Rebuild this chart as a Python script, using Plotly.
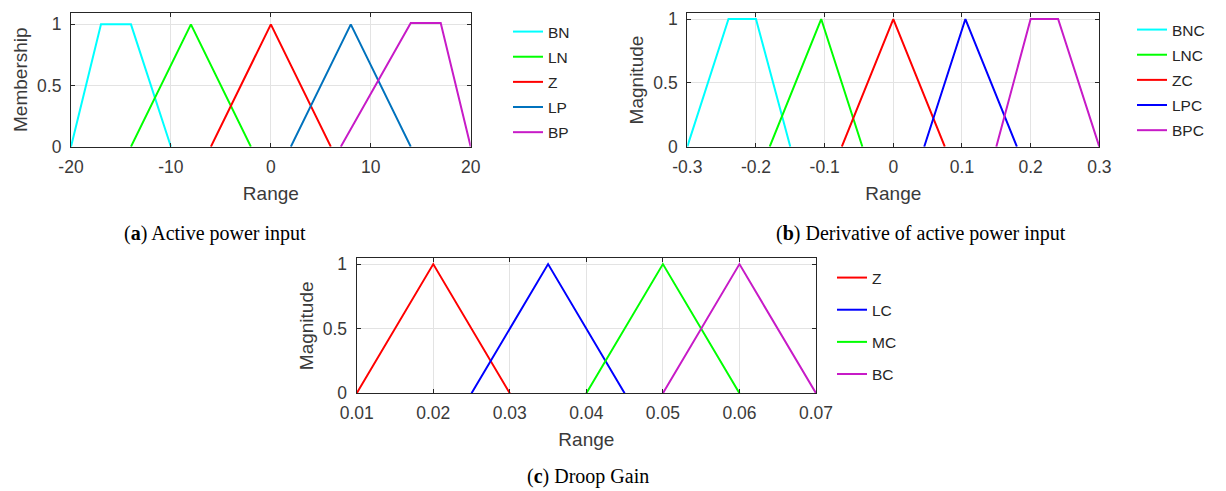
import plotly.graph_objects as go

W, H = 1226, 491

# ---- data (membership function breakpoints) ----
a_names = ["BN", "LN", "Z", "LP", "BP"]
a_x = [[-20, -17, -14, -10], [-14, -8, -2], [-6, 0, 6], [2, 8, 14], [7, 14, 17, 20]]
a_y = [[0, 1, 1, 0], [0, 1, 0], [0, 1, 0], [0, 1, 0], [0, 1.01, 1.01, 0]]
a_ticks = [-20, -10, 0, 10, 20]

b_names = ["BNC", "LNC", "ZC", "LPC", "BPC"]
b_x = [[-0.3, -0.24, -0.2, -0.15], [-0.18, -0.105, -0.045], [-0.075, 0, 0.075],
       [0.045, 0.105, 0.18], [0.15, 0.2, 0.24, 0.3]]
b_y = [[0, 1, 1, 0], [0, 1, 0], [0, 1, 0], [0, 1, 0], [0, 1, 1, 0]]
b_ticks = [-0.3, -0.2, -0.1, 0, 0.1, 0.2, 0.3]

c_names = ["Z", "LC", "MC", "BC"]
c_x = [[0.01, 0.02, 0.03], [0.025, 0.035, 0.045], [0.04, 0.05, 0.06], [0.05, 0.06, 0.07]]
c_y = [[0, 1, 0], [0, 1, 0], [0, 1, 0], [0, 1, 0]]
c_ticks = [0.01, 0.02, 0.03, 0.04, 0.05, 0.06, 0.07]

y_ticks = [0, 0.5, 1]

a_colors = ["#00FFFF", "#00FF00", "#FF0000", "#0072BD", "#C71BC7"]
b_colors = ["#00FFFF", "#00FF00", "#FF0000", "#0000FF", "#C71BC7"]
c_colors = ["#FF0000", "#0000FF", "#00FF00", "#C71BC7"]

fig = go.Figure()

def px_x(v):
    return v / W

def px_y(v):
    return 1 - v / H

panels = [
    dict(names=a_names, xs=a_x, ys=a_y, colors=a_colors, xa="x", ya="y", leg="legend"),
    dict(names=b_names, xs=b_x, ys=b_y, colors=b_colors, xa="x2", ya="y2", leg="legend2"),
    dict(names=c_names, xs=c_x, ys=c_y, colors=c_colors, xa="x3", ya="y3", leg="legend3"),
]
for p in panels:
    for i, (n, xx, yy, col) in enumerate(zip(p["names"], p["xs"], p["ys"], p["colors"])):
        fig.add_trace(go.Scatter(
            x=xx, y=yy, mode="lines", name=n,
            line=dict(color=col, width=2),
            xaxis=p["xa"], yaxis=p["ya"], legend=p["leg"],
            legendgroup=p["leg"] + n, hoverinfo="skip",
        ))

tick_font = dict(family="Liberation Sans, Arial", size=17.5, color="#3a3a3a")
title_font = dict(family="Liberation Sans, Arial", size=19, color="#3a3a3a")

def xaxis(dom, rng, ticks, anchor, fmt):
    return dict(domain=dom, range=rng, tickvals=ticks, ticktext=fmt, anchor=anchor,
                automargin=False,
                showgrid=True, gridcolor="#e3e3e3", gridwidth=1,
                showline=True, linecolor="#262626", linewidth=1.2, mirror="allticks",
                ticks="inside", ticklen=4, tickcolor="#262626", ticklabelstandoff=4,
                tickfont=tick_font, zeroline=False,
                title=dict(text="Range", font=title_font, standoff=10))

def yaxis(dom, rng, anchor, title):
    return dict(domain=dom, range=rng, tickvals=y_ticks, ticktext=["0", "0.5", "1"],
                anchor=anchor, automargin=False,
                showgrid=True, gridcolor="#e3e3e3", gridwidth=1,
                showline=True, linecolor="#262626", linewidth=1.2, mirror="allticks",
                ticks="inside", ticklen=4, tickcolor="#262626", ticklabelstandoff=5,
                tickfont=tick_font, zeroline=False,
                title=dict(text=title, font=title_font, standoff=4))

leg_font = dict(family="Liberation Sans, Arial", size=15.5, color="#262626")

fig.update_layout(
    width=W, height=H,
    margin=dict(l=0, r=0, t=0, b=0),
    paper_bgcolor="white", plot_bgcolor="white",
    xaxis=xaxis([px_x(71), px_x(470.7)], [-20, 20], a_ticks, "y",
                [str(t) for t in a_ticks]),
    yaxis=yaxis([px_y(146.7), px_y(12.7)], [0, 1.095], "x", "Membership"),
    xaxis2=xaxis([px_x(687.3), px_x(1099.3)], [-0.3, 0.3], b_ticks, "y2",
                 ["-0.3", "-0.2", "-0.1", "0", "0.1", "0.2", "0.3"]),
    yaxis2=yaxis([px_y(146.7), px_y(13.3)], [0, 1.045], "x2", "Magnitude"),
    xaxis3=xaxis([px_x(356.7), px_x(816)], [0.01, 0.07], c_ticks, "y3",
                 ["0.01", "0.02", "0.03", "0.04", "0.05", "0.06", "0.07"]),
    yaxis3=yaxis([px_y(393.3), px_y(258.3)], [0, 1.045], "x3", "Magnitude"),
    legend=dict(x=px_x(508), y=px_y(15), xanchor="left", yanchor="top",
                font=leg_font, bgcolor="rgba(0,0,0,0)", tracegroupgap=2),
    legend2=dict(x=px_x(1132), y=px_y(13), xanchor="left", yanchor="top",
                 font=leg_font, bgcolor="rgba(0,0,0,0)", tracegroupgap=2),
    legend3=dict(x=px_x(832), y=px_y(261), xanchor="left", yanchor="top",
                 font=leg_font, bgcolor="rgba(0,0,0,0)", tracegroupgap=9),
    showlegend=True,
)

cap_font = dict(family="Liberation Serif, Times New Roman, serif", size=20, color="black")
captions = [
    ("(<b>a</b>) Active power input", 215, 233),
    ("(<b>b</b>) Derivative of active power input", 921, 233),
    ("(<b>c</b>) Droop Gain", 588, 476),
]
for txt, cx, cy in captions:
    fig.add_annotation(text=txt, x=px_x(cx), y=px_y(cy), xref="paper", yref="paper",
                       showarrow=False, xanchor="center", yanchor="middle", font=cap_font)

fig.write_html("out.html")
